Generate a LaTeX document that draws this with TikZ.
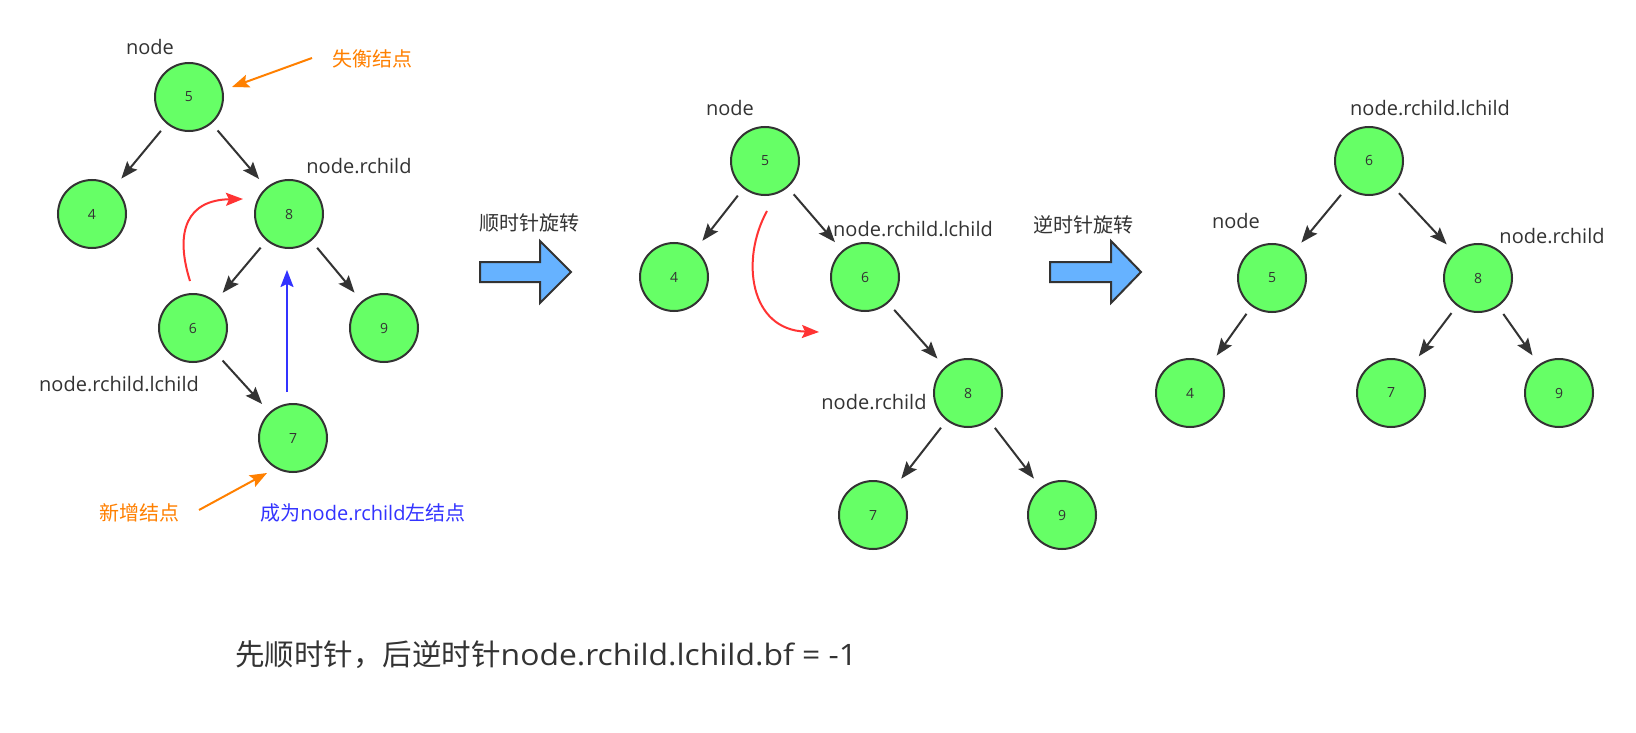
\documentclass[tikz,border=0pt]{standalone}
\usepackage{fontspec}
\setmainfont{Open Sans}
\newfontfamily\widelatin{Open Sans}[FakeStretch=1.08]
\newfontfamily\cjk{Noto Sans CJK SC}
\usetikzlibrary{arrows.meta}
\definecolor{nodegreen}{HTML}{66FF66}
\definecolor{ink}{HTML}{333333}
\definecolor{hintred}{HTML}{FF3333}
\definecolor{hintblue}{HTML}{3333FF}
\definecolor{hintorange}{HTML}{FF8000}
\definecolor{shaftblue}{HTML}{66B2FF}
\begin{document}
\begin{tikzpicture}[x=1pt,y=-1pt,
  tnode/.style={circle, draw=ink, line width=2pt, fill=nodegreen, minimum size=68pt,
    inner sep=0pt, text=ink, font=\fontsize{14}{14}\selectfont},
  lbl/.style={anchor=base, text=ink, inner sep=0pt, font=\fontsize{20}{24}\selectfont},
  tip/.style={-{Stealth[length=17pt,width=13pt,inset=3pt]}},
  treeedge/.style={draw=ink, line width=2pt, tip, shorten <=9pt, shorten >=11pt},
  hint/.style={line width=2pt, tip},
  bigarrow/.style={draw=ink, line width=2pt, fill=shaftblue, line join=miter}]
\useasboundingbox[fill=white] (0,0) rectangle (1636,733);

% ---------- tree before rotation ----------
\node[tnode] (a5) at (189,97) {5};
\node[tnode] (a4) at (92,214) {4};
\node[tnode] (a8) at (289,214) {8};
\node[tnode] (a6) at (193,328) {6};
\node[tnode] (a9) at (384,328) {9};
\node[tnode] (a7) at (293,438) {7};
\draw[treeedge] (a5) -- (a4);
\draw[treeedge] (a5) -- (a8);
\draw[treeedge] (a8) -- (a6);
\draw[treeedge] (a8) -- (a9);
\draw[treeedge] (a6) -- (a7);

\node[lbl] (la5) at (150,55) {node};
\node[lbl] (la8) at (359,174) {node.rchild};
\node[lbl] (la6) at (119,391) {node.rchild.lchild};
\node[lbl, text=hintorange] (lunb) at (372,67) {\cjk 失衡结点};
\node[lbl, text=hintorange] (lnew) at (139,520) {\cjk 新增结点};
\node[lbl, text=hintblue] (lleft) at (363,520) {{\cjk 成为}node.rchild{\cjk 左结点}};

\coordinate (unbS) at (312,58);
\coordinate (unbE) at (232,87);
\draw[hint, draw=hintorange] (unbS) -- (unbE);
\coordinate (newS) at (199,510);
\coordinate (newE) at (267,473);
\draw[hint, draw=hintorange] (newS) -- (newE);
\coordinate (upS) at (287,392);
\coordinate (upE) at (287,270);
\draw[hint, draw=hintblue] (upS) -- (upE);
\coordinate (rotS) at (190,281);
\coordinate (rotE) at (243,199);
\draw[hint, draw=hintred] (rotS) .. controls (174,230) and (188,200) .. (rotE);

% ---------- clockwise step ----------
\node[lbl] (lcw) at (529,230) {\cjk 顺时针旋转};
\draw[bigarrow] (480,262) -- (540,262) -- (540,241) -- (571,272) -- (540,303) -- (540,282) -- (480,282) -- cycle;

\node[tnode] (b5) at (765,161) {5};
\node[tnode] (b4) at (674,277) {4};
\node[tnode] (b6) at (865,277) {6};
\node[tnode] (b8) at (968,393) {8};
\node[tnode] (b7) at (873,515) {7};
\node[tnode] (b9) at (1062,515) {9};
\draw[treeedge] (b5) -- (b4);
\draw[treeedge] (b5) -- (b6);
\draw[treeedge] (b6) -- (b8);
\draw[treeedge] (b8) -- (b7);
\draw[treeedge] (b8) -- (b9);

\node[lbl] (lb5) at (730,116) {node};
\node[lbl] (lb6) at (913,236) {node.rchild.lchild};
\node[lbl] (lb8) at (874,409) {node.rchild};

\coordinate (cwS) at (767,211);
\coordinate (cwE) at (819,332);
\draw[hint, draw=hintred] (cwS) .. controls (740,260) and (750,330) .. (cwE);

% ---------- counter-clockwise step ----------
\node[lbl] (lccw) at (1083,232) {\cjk 逆时针旋转};
\draw[bigarrow] (1050,262) -- (1111,262) -- (1111,241) -- (1141,272) -- (1111,303) -- (1111,282) -- (1050,282) -- cycle;

\node[tnode] (c6) at (1369,161) {6};
\node[tnode] (c5) at (1272,278) {5};
\node[tnode] (c8) at (1478,278) {8};
\node[tnode] (c4) at (1190,393) {4};
\node[tnode] (c7) at (1391,393) {7};
\node[tnode] (c9) at (1559,393) {9};
\draw[treeedge] (c6) -- (c5);
\draw[treeedge] (c6) -- (c8);
\draw[treeedge] (c5) -- (c4);
\draw[treeedge] (c8) -- (c7);
\draw[treeedge] (c8) -- (c9);

\node[lbl] (lc6) at (1430,116) {node.rchild.lchild};
\node[lbl] (lc5) at (1236,228) {node};
\node[lbl] (lc8) at (1552,243) {node.rchild};

% ---------- summary ----------
\node[lbl, anchor=base west, font=\fontsize{29.5}{34}\selectfont] (summary) at (235,665)
  {{\cjk 先顺时针，后逆时针}{\widelatin node.rchild.lchild.bf = -1}};
\end{tikzpicture}
\end{document}
